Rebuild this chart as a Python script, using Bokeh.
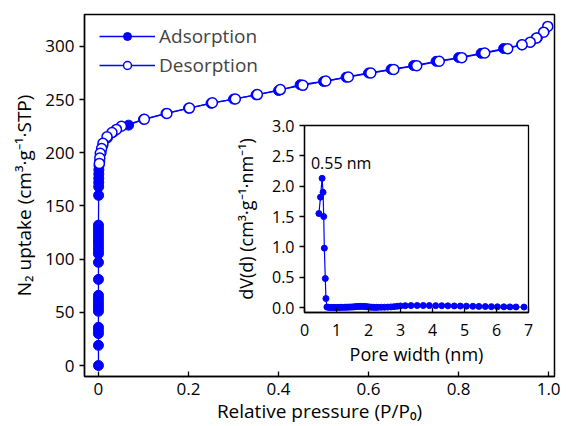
from bokeh.plotting import figure
from bokeh.layouts import column
from bokeh.models import Range1d, Label, FixedTicker
from bokeh.embed import file_html
from bokeh.resources import INLINE

# ---------------- data ----------------
ads_p = [0.000001, 0.000002, 0.000003, 0.000004, 0.000005, 0.000006, 0.000007, 0.000008,
         0.000009, 0.00001, 0.000011, 0.000012, 0.000013, 0.000014, 0.000015, 0.000016,
         0.000017, 0.000018, 0.000019, 0.00002, 0.000021, 0.000022, 0.000023,
         0.0004, 0.0005, 0.0006, 0.0007, 0.0008, 0.0009, 0.0012,
         0.003, 0.006, 0.010, 0.020, 0.035, 0.067,
         0.10, 0.15, 0.20, 0.25, 0.30, 0.35, 0.40, 0.448, 0.50, 0.55, 0.60, 0.65,
         0.70, 0.75, 0.80, 0.85, 0.90, 0.94, 0.96, 0.975, 0.99]
ads_v = [0, 19, 30, 33, 36, 51, 54, 57, 60, 63, 66, 81, 97, 105, 108, 111, 114, 117,
         120, 123, 126, 129, 132,
         160, 168, 172, 176, 180, 184, 188,
         192, 200, 207, 214, 220, 226,
         231.5, 237, 242, 246.5, 250.5, 254.5, 258.5, 264.0, 267, 271, 275, 278.5,
         282, 286, 289.5, 293.5, 298, 301.5, 304, 308, 314]

des_p = [0.998, 0.989, 0.973, 0.959, 0.941, 0.909, 0.858, 0.807, 0.757, 0.707, 0.656,
         0.605, 0.555, 0.505, 0.454, 0.404, 0.353, 0.304, 0.253, 0.202, 0.152, 0.102,
         0.051, 0.040, 0.030, 0.019, 0.010, 0.007, 0.004, 0.003, 0.002]
des_v = [318.8, 313.4, 308.0, 304.0, 301.6, 297.9, 293.8, 289.4, 286.0, 281.9, 278.4,
         275.0, 271.3, 267.5, 263.4, 259.4, 254.7, 250.6, 247.0, 242.0, 237.0, 231.5,
         225.0, 222.0, 219.0, 215.0, 209.0, 204.0, 199.5, 195.0, 190.0]

psd_w = [0.45, 0.50, 0.55, 0.58, 0.60, 0.62, 0.65, 0.67, 0.70,
         0.75, 0.80, 0.85, 0.90, 0.95, 1.00, 1.05, 1.10, 1.15, 1.20, 1.25, 1.30, 1.35,
         1.40, 1.45, 1.50, 1.55, 1.60, 1.65, 1.70, 1.75, 1.80, 1.85, 1.90, 1.95, 2.00,
         2.05, 2.10, 2.15, 2.20, 2.25, 2.30, 2.40, 2.50, 2.60, 2.70, 2.80, 2.90, 3.00,
         3.15, 3.33, 3.52, 3.71, 3.90, 4.10, 4.29, 4.48, 4.68, 4.87, 5.06, 5.26, 5.45,
         5.65, 5.84, 6.03, 6.23, 6.42, 6.61, 6.86]
psd_dv = [1.55, 1.82, 2.13, 1.90, 1.50, 0.98, 0.48, 0.15, 0.01,
          0.005, 0.004, 0.004, 0.003, 0.003, 0.003, 0.004, 0.004, 0.005, 0.005, 0.006,
          0.007, 0.008, 0.009, 0.010, 0.011, 0.013, 0.016, 0.018, 0.020, 0.021, 0.021,
          0.020, 0.018, 0.015, 0.012, 0.009, 0.007, 0.006, 0.005, 0.005, 0.005, 0.006,
          0.007, 0.009, 0.012, 0.016, 0.022, 0.028,
          0.032, 0.034, 0.035, 0.035, 0.034, 0.033, 0.032, 0.030, 0.028, 0.026, 0.024,
          0.022, 0.020, 0.018, 0.016, 0.014, 0.013, 0.012, 0.011, 0.010]

x_ticks = [0, 0.2, 0.4, 0.6, 0.8, 1.0]
x_tick_labels = ["0", "0.2", "0.4", "0.6", "0.8", "1.0"]
y_ticks = [0, 50, 100, 150, 200, 250, 300]
inset_x_ticks = [0, 1, 2, 3, 4, 5, 6, 7]
inset_y_ticks = [0.0, 0.5, 1.0, 1.5, 2.0, 2.5, 3.0]
inset_y_labels = ["0.0", "0.5", "1.0", "1.5", "2.0", "2.5", "3.0"]

BLUE = "#0000ff"
FONT = "Open Sans"


def style(p, tick_font, label_font):
    p.xgrid.visible = False
    p.ygrid.visible = False
    p.outline_line_color = "black"
    p.outline_line_alpha = 1.0
    for ax in (p.xaxis[0], p.yaxis[0]):
        ax.axis_line_width = 1.3
        ax.major_tick_line_width = 1.3
        ax.minor_tick_line_color = None
        ax.major_label_text_font = FONT
        ax.major_label_text_font_size = tick_font
        ax.major_label_text_color = "black"
        ax.axis_label_text_font = FONT
        ax.axis_label_text_font_size = label_font
        ax.axis_label_text_font_style = "normal"
        ax.axis_label_text_color = "black"
    p.xaxis[0].major_tick_in = 5
    p.xaxis[0].major_tick_out = 0
    p.yaxis[0].major_tick_in = 0
    p.yaxis[0].major_tick_out = 5


# ---------------- main figure ----------------
main = figure(width=566, height=426, x_range=Range1d(-0.031, 1.013),
              y_range=Range1d(-10.3, 330), output_backend="svg",
              toolbar_location=None, min_border_left=84, min_border_right=12,
              min_border_top=14, min_border_bottom=49)
style(main, "17px", "19px")
main.outline_line_width = 1.5
main.xaxis[0].ticker = FixedTicker(ticks=x_ticks)
main.xaxis[0].major_label_overrides = dict(zip(x_ticks, x_tick_labels))
main.yaxis[0].ticker = FixedTicker(ticks=y_ticks)
main.xaxis[0].axis_label = "Relative pressure (P/P\u2080)"
main.yaxis[0].axis_label = "N\u2082 uptake (cm\u00b3\u00b7g\u207b\u00b9\u00b7STP)"
main.xaxis[0].axis_label_standoff = 0
main.yaxis[0].axis_label_standoff = 5
main.xaxis[0].major_label_standoff = 6

main.line(ads_p, ads_v, line_color=BLUE, line_width=1.3, legend_label="Adsorption")
main.scatter(ads_p, ads_v, size=10, marker="circle", fill_color=BLUE,
             line_color=BLUE, legend_label="Adsorption")
main.line(des_p, des_v, line_color=BLUE, line_width=1.3, legend_label="Desorption")
main.scatter(des_p, des_v, size=10, marker="circle", fill_color="white",
             line_color=BLUE, line_width=1.5, legend_label="Desorption")

lg = main.legend[0]
lg.location = (15, 298)
lg.label_text_font = FONT
lg.label_text_font_size = "19px"
lg.glyph_width = 56
lg.glyph_height = 20
lg.label_standoff = 4
lg.spacing = 3
lg.margin = 0
lg.padding = 0
lg.border_line_color = None
lg.background_fill_alpha = 0

# ---------------- inset ----------------
inset = figure(width=320, height=254, x_range=Range1d(0, 7),
               y_range=Range1d(-0.08, 3.0), output_backend="svg",
               toolbar_location=None, min_border_left=80, min_border_right=6,
               min_border_top=10, min_border_bottom=57, margin=(-311, 0, 0, 220))
style(inset, "16px", "18px")
inset.outline_line_width = 1.3
inset.border_fill_alpha = 0
inset.background_fill_alpha = 0
inset.xaxis[0].ticker = FixedTicker(ticks=inset_x_ticks)
inset.yaxis[0].ticker = FixedTicker(ticks=inset_y_ticks)
inset.yaxis[0].major_label_overrides = dict(zip(inset_y_ticks, inset_y_labels))
inset.xaxis[0].axis_label = "Pore width (nm)"
inset.yaxis[0].axis_label = "dV(d) (cm\u00b3\u00b7g\u207b\u00b9\u00b7nm\u207b\u00b9)"
inset.xaxis[0].axis_label_standoff = 3
inset.yaxis[0].axis_label_standoff = 11
inset.xaxis[0].major_label_standoff = 11

inset.line(psd_w, psd_dv, line_color=BLUE, line_width=1.2)
inset.scatter(psd_w, psd_dv, size=6, marker="circle", fill_color=BLUE, line_color=BLUE)
inset.add_layout(Label(x=0.2, y=2.39, text="0.55 nm", text_font=FONT,
                       text_font_size="16px", text_color="black",
                       text_baseline="alphabetic"))

layout = column(main, inset)
open("out.html", "w").write(file_html(layout, INLINE))
